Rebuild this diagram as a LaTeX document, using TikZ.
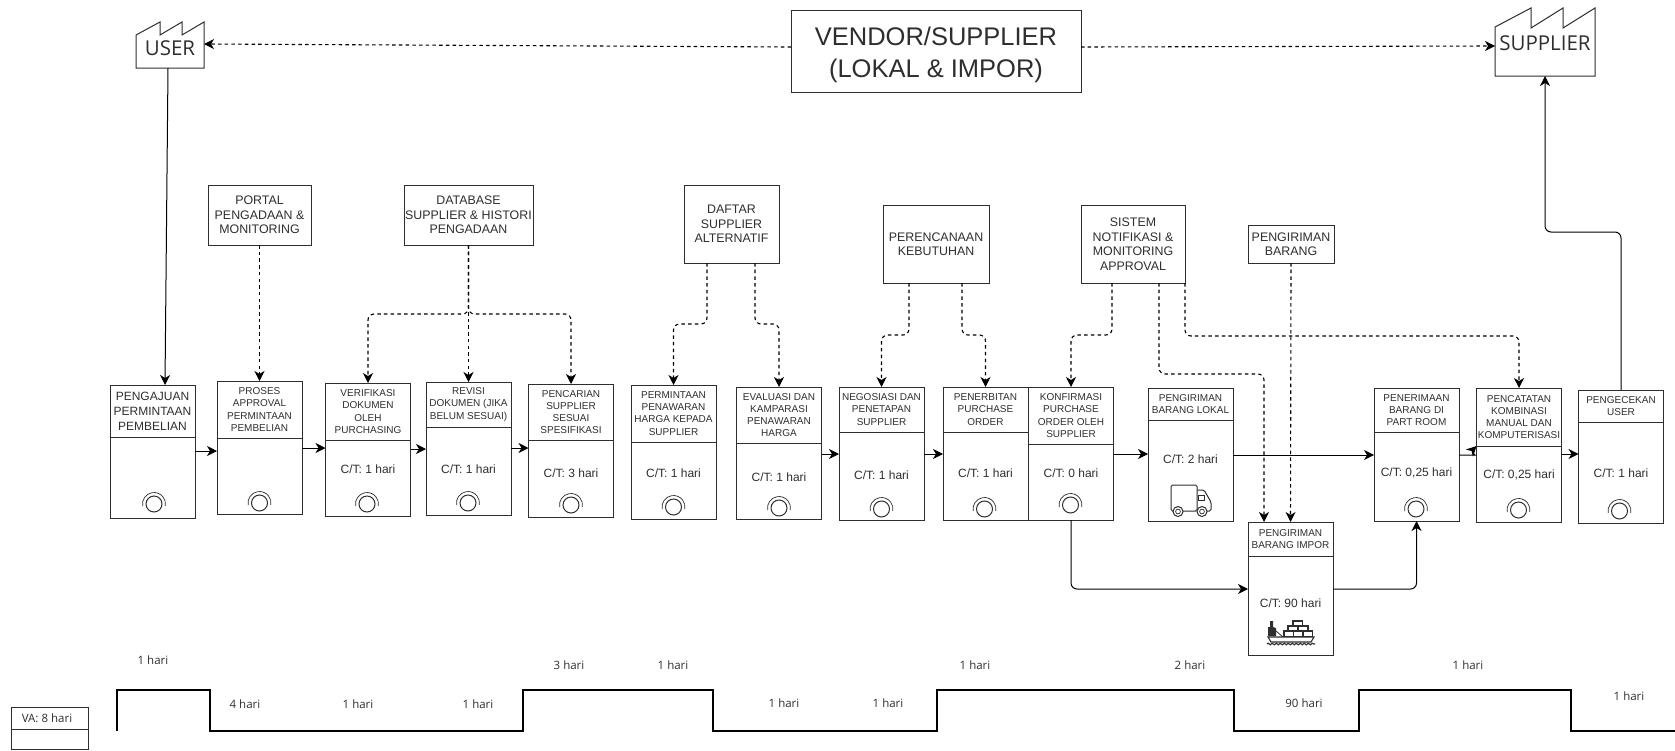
\documentclass[tikz,border=0pt]{standalone}
\usepackage{fontspec}
\setmainfont{Liberation Sans}
\newfontfamily\opensans{Open Sans}
\usetikzlibrary{positioning,arrows.meta,decorations.pathmorphing}
\definecolor{inkcolor}{HTML}{2E2E2E}
\begin{document}
\begin{tikzpicture}[x=1pt, y=-1pt, >={Stealth[length=10pt,width=10pt,inset=3pt]},
    every node/.style={text=inkcolor, inner sep=0pt, outer sep=0pt, align=center},
    headbox/.style={draw=inkcolor, line width=1pt, minimum width=85pt, font=\fontsize{10}{12.2}\selectfont},
    bodybox/.style={draw=inkcolor, line width=1pt, minimum width=85pt},
    infobox/.style={draw=inkcolor, line width=1pt, font=\fontsize{12.4}{14.5}\selectfont},
    ctlabel/.style={font=\fontsize{12}{15}\selectfont},
    timelabel/.style={font=\opensans\fontsize{11.5}{14}\selectfont},
    factorytext/.style={font=\opensans\fontsize{20.5}{24}\selectfont},
    flowarrow/.style={->, black, line width=1pt, rounded corners=6pt},
    dasharrow/.style={->, black, line width=1.1pt, dash pattern=on 3.5pt off 3.2pt, rounded corners=6pt},
    iconline/.style={draw=inkcolor, line width=1pt},
    timeline/.style={black, line width=2pt}]
  \useasboundingbox (0,0) rectangle (1675,750);

  % factories and vendor
  \node[factorytext, minimum width=68pt, minimum height=40pt] (user) at (170,48) {USER};
  \draw[iconline] (136,68) -- (136,35) -- (160,22) -- (160,35) -- (182,22) -- (182,35) -- (204,22) -- (204,68) -- cycle;
  \node[factorytext, minimum width=100pt, minimum height=66pt] (supplier) at (1545,43) {SUPPLIER};
  \draw[iconline] (1495,76) -- (1495,27) -- (1531,8) -- (1531,28) -- (1563,8) -- (1563,28) -- (1595,8) -- (1595,76) -- cycle;
  \node[infobox, minimum width=290pt, minimum height=82pt, font=\fontsize{25.5}{32}\selectfont] (vendor) at (936,51) {\rule{0pt}{27pt}VENDOR/SUPPLIER\\(LOKAL \& IMPOR)};

  % info boxes
  \node[infobox, minimum width=103pt, minimum height=60pt] (portal) at (259.5,215) {PORTAL\\PENGADAAN \&\\MONITORING};
  \node[infobox, minimum width=129pt, minimum height=60pt] (database) at (468.5,215) {DATABASE\\SUPPLIER \& HISTORI\\PENGADAAN};
  \node[infobox, minimum width=95pt, minimum height=78pt] (daftar) at (731.5,224) {DAFTAR\\SUPPLIER\\ALTERNATIF};
  \node[infobox, minimum width=106pt, minimum height=78pt] (perencanaan) at (936,244) {PERENCANAAN\\KEBUTUHAN};
  \node[infobox, minimum width=104pt, minimum height=78pt] (sistem) at (1133,244) {SISTEM\\NOTIFIKASI \&\\MONITORING\\APPROVAL};
  \node[infobox, minimum width=86pt, minimum height=38pt] (kirim) at (1291,244) {PENGIRIMAN\\BARANG};

  % process boxes
  \node[headbox, minimum height=52pt, font=\fontsize{12}{15}\selectfont] (pengajuan) at (152.5,411) {PENGAJUAN\\PERMINTAAN\\PEMBELIAN};
  \node[bodybox, minimum height=81pt, below=0pt of pengajuan] (pengajuanb) {};
  \node[headbox, minimum height=57pt] (proses) at (259.5,409.5) {PROSES\\APPROVAL\\PERMINTAAN\\PEMBELIAN};
  \node[bodybox, minimum height=76pt, below=0pt of proses] (prosesb) {};
  \node[headbox, minimum height=57pt] (verifikasi) at (368,411.5) {VERIFIKASI\\DOKUMEN\\OLEH\\PURCHASING};
  \node[bodybox, minimum height=76pt, below=0pt of verifikasi] (verifikasib) {};
  \node[headbox, minimum height=45pt] (revisi) at (468.5,404.5) {REVISI\\DOKUMEN (JIKA\\BELUM SESUAI)};
  \node[bodybox, minimum height=88pt, below=0pt of revisi] (revisib) {};
  \node[headbox, minimum height=56pt] (pencarian) at (571,412) {PENCARIAN\\SUPPLIER\\SESUAI\\SPESIFIKASI};
  \node[bodybox, minimum height=77pt, below=0pt of pencarian] (pencarianb) {};
  \node[headbox, minimum height=57pt] (permintaan) at (673.5,413.5) {PERMINTAAN\\PENAWARAN\\HARGA KEPADA\\SUPPLIER};
  \node[bodybox, minimum height=77pt, below=0pt of permintaan] (permintaanb) {};
  \node[headbox, minimum height=56pt] (evaluasi) at (779,415) {EVALUASI DAN\\KAMPARASI\\PENAWARAN\\HARGA};
  \node[bodybox, minimum height=76pt, below=0pt of evaluasi] (evaluasib) {};
  \node[headbox, minimum height=45pt] (negosiasi) at (881.5,409.5) {NEGOSIASI DAN\\PENETAPAN\\SUPPLIER};
  \node[bodybox, minimum height=88pt, below=0pt of negosiasi] (negosiasib) {};
  \node[headbox, minimum height=45pt] (penerbitan) at (985.5,409.5) {PENERBITAN\\PURCHASE\\ORDER};
  \node[bodybox, minimum height=88pt, below=0pt of penerbitan] (penerbitanb) {};
  \node[headbox, minimum height=57pt] (konfirmasi) at (1071,415.5) {KONFIRMASI\\PURCHASE\\ORDER OLEH\\SUPPLIER};
  \node[bodybox, minimum height=76pt, below=0pt of konfirmasi] (konfirmasib) {};
  \node[headbox, minimum height=32pt] (lokal) at (1190.5,404) {PENGIRIMAN\\BARANG LOKAL};
  \node[bodybox, minimum height=101pt, below=0pt of lokal] (lokalb) {};
  \node[headbox, minimum height=34pt] (impor) at (1290.5,539) {PENGIRIMAN\\BARANG IMPOR};
  \node[bodybox, minimum height=99pt, below=0pt of impor] (imporb) {};
  \node[headbox, minimum height=44pt] (penerimaan) at (1416.5,410) {PENERIMAAN\\BARANG DI\\PART ROOM};
  \node[bodybox, minimum height=89pt, below=0pt of penerimaan] (penerimaanb) {};
  \node[headbox, minimum height=58pt] (pencatatan) at (1519,417) {PENCATATAN\\KOMBINASI\\MANUAL DAN\\KOMPUTERISASI};
  \node[bodybox, minimum height=76pt, below=0pt of pencatatan] (pencatatanb) {};
  \node[headbox, minimum height=32pt] (pengecekan) at (1621,406) {PENGECEKAN\\USER};
  \node[bodybox, minimum height=101pt, below=0pt of pengecekan] (pengecekanb) {};

  % cycle times
  \node[ctlabel] (ctverifikasi) at (368,469) {C/T: 1 hari};
  \node[ctlabel] (ctrevisi)     at (468.5,469) {C/T: 1 hari};
  \node[ctlabel] (ctpencarian)  at (571,473) {C/T: 3 hari};
  \node[ctlabel] (ctpermintaan) at (673.5,473) {C/T: 1 hari};
  \node[ctlabel] (ctevaluasi)   at (779,477) {C/T: 1 hari};
  \node[ctlabel] (ctnegosiasi)  at (881.5,475) {C/T: 1 hari};
  \node[ctlabel] (ctpenerbitan) at (985.5,473) {C/T: 1 hari};
  \node[ctlabel] (ctkonfirmasi) at (1071,473) {C/T: 0 hari};
  \node[ctlabel] (ctlokal)      at (1190.5,459) {C/T: 2 hari};
  \node[ctlabel] (ctimpor)      at (1290.5,603) {C/T: 90 hari};
  \node[ctlabel] (ctpenerimaan) at (1416.5,473) {C/T: 0,25 hari};
  \node[ctlabel] (ctpencatatan) at (1519,475) {C/T: 0,25 hari};
  \node[ctlabel] (ctpengecekan) at (1621,473) {C/T: 1 hari};

  % operator icons
  \foreach \ox/\oy in {154/504, 259.5/503, 367/504, 468/503, 571/505, 673.5/507, 779/508, 881.5/509,
                       984.5/509, 1070.5/505, 1416/509, 1518.5/510, 1619.5/511} {
    \draw[iconline] (\ox,\oy) circle[radius=8pt];
    \draw[iconline, line width=0.7pt] (\ox,\oy) ++(190:11.5pt) arc[start angle=190, end angle=-10, radius=11.5pt];
  }

  % truck
  \draw[iconline, rounded corners=1.5pt] (1173,511) -- (1171,511) -- (1171,485) -- (1197,485) -- (1197,511) -- (1183,511);
  \draw[iconline, rounded corners=1.5pt] (1197,490) -- (1204,490) -- (1211,502) -- (1211,511) -- (1207,511);
  \draw[iconline, line width=0.8pt] (1198.5,495) rectangle (1204.5,500);
  \foreach \wx in {1178,1202} {
    \draw[iconline] (\wx,511.5) circle[radius=5pt];
    \draw[iconline, line width=0.7pt] (\wx,511.5) circle[radius=2.4pt];
  }

  % ship
  \fill[inkcolor] (1268,636) -- (1268,627) -- (1270,627) -- (1270,621) -- (1273,621) -- (1273,627) -- (1276,628) -- (1276,636) -- cycle;
  \draw[iconline, line width=1.1pt] (1268,637) -- (1314,637) -- (1311,642) -- (1271,642) -- cycle;
  \draw[iconline, line width=0.8pt] (1276,631) -- (1283,637);
  \foreach \cx in {1284,1293.5,1303} {
    \draw[iconline, line width=1.1pt] (\cx,631) rectangle ++(9.5,5.5);
  }
  \foreach \cx in {1288,1298} {
    \draw[iconline, line width=1.1pt] (\cx,626) rectangle ++(10,5);
  }
  \draw[iconline, line width=1.1pt] (1293,621) rectangle ++(9.5,5);
  \draw[iconline, line width=1.1pt, decorate, decoration={snake, amplitude=0.8pt, segment length=4pt}] (1267,644) -- (1315,644);

  % flow arrows
  \draw[flowarrow] (user.south) ++(-2,0) -- (pengajuan.north -| 165,0);
  \draw[flowarrow] (pengajuanb.east |- 0,451) -- (prosesb.west |- 0,451);
  \draw[flowarrow] (prosesb.east |- 0,448) -- (verifikasib.west |- 0,448);
  \draw[flowarrow] (verifikasib.east |- 0,449) -- (revisib.west |- 0,449);
  \draw[flowarrow] (revisib.east |- 0,448) -- (pencarianb.west |- 0,448);
  \draw[flowarrow] (evaluasib.east |- 0,454) -- (negosiasib.west |- 0,454);
  \draw[flowarrow] (negosiasib.east |- 0,454) -- (penerbitanb.west |- 0,454);
  \draw[flowarrow] (konfirmasib.east |- 0,454) -- (lokalb.west |- 0,454);
  \draw[flowarrow] (lokalb.east |- 0,455) -- (penerimaanb.west |- 0,455);
  \draw[flowarrow] (penerimaanb.east |- 0,455) -- ++(10,0) .. controls +(4,0) and +(-3,3) .. (pencatatanb.north west);
  \draw[flowarrow] (pencatatanb.east |- 0,454) -- (pengecekanb.west |- 0,454);
  \draw[flowarrow] (konfirmasib.south) |- (imporb.west |- 0,589);
  \draw[flowarrow] (imporb.east |- 0,589) -| (penerimaanb.south);
  \draw[flowarrow] (pengecekan.north) -- ++(0,-158) -| (supplier.south);

  % dashed arrows
  \draw[dasharrow] ([yshift=4pt]vendor.west) -- ([yshift=4pt]user.east);
  \draw[dasharrow] ([yshift=4pt]vendor.east) -- ([yshift=-3pt]supplier.west);
  \draw[dasharrow] (portal.south) -- (proses.north);
  \draw[dasharrow] (database.south) -- ++(0,69) -| (verifikasi.north);
  \draw[dasharrow] (database.south) -- (revisi.north);
  \draw[dasharrow] (database.south) -- ++(0,69) -| (pencarian.north);
  \draw[dasharrow] ([xshift=-24.5pt]daftar.south) -- ++(0,61) -| (permintaan.north);
  \draw[dasharrow] ([xshift=23.5pt]daftar.south) -- ++(0,61) -| (evaluasi.north);
  \draw[dasharrow] ([xshift=-27pt]perencanaan.south) -- ++(0,52) -| (negosiasi.north);
  \draw[dasharrow] ([xshift=26pt]perencanaan.south) -- ++(0,52) -| (penerbitan.north);
  \draw[dasharrow] ([xshift=-21pt]sistem.south) -- ++(0,52) -| (konfirmasi.north);
  \draw[dasharrow] ([xshift=26pt]sistem.south) -- ++(0,91) -| ([xshift=-26.5pt]impor.north);
  \draw[dasharrow] (sistem.south east) -- ++(0,53) -| (pencatatan.north);
  \draw[dasharrow] (kirim.south) -- (impor.north);

  % timeline
  \draw[timeline] (117,731) -- (117,690) -- (210,690) -- (210,731) -- (523,731) -- (523,690) -- (713,690) -- (713,731)
    -- (937,731) -- (937,690) -- (1234,690) -- (1234,731) -- (1359,731) -- (1359,690) -- (1571,690) -- (1571,731) -- (1675,731);
  \foreach \tx/\ty/\tval [count=\i] in {153/660/1 hari, 245/704/4 hari, 358/704/1 hari, 478/704/1 hari, 569/665/3 hari,
      673/665/1 hari, 784/703/1 hari, 888/703/1 hari, 975/665/1 hari, 1190/665/2 hari, 1304/703/90 hari,
      1468/665/1 hari, 1629/696/1 hari} {
    \node[timelabel] (time\i) at (\tx,\ty) {\tval};
  }

  % total box
  \node[draw=inkcolor, line width=1pt, minimum width=77pt, minimum height=22pt, timelabel] (vahead) at (49.5,718) {VA: 8 hari\hspace*{5pt}};
  \node[draw=inkcolor, line width=1pt, minimum width=77pt, minimum height=20pt, below=0pt of vahead] (vabody) {};
\end{tikzpicture}
\end{document}
